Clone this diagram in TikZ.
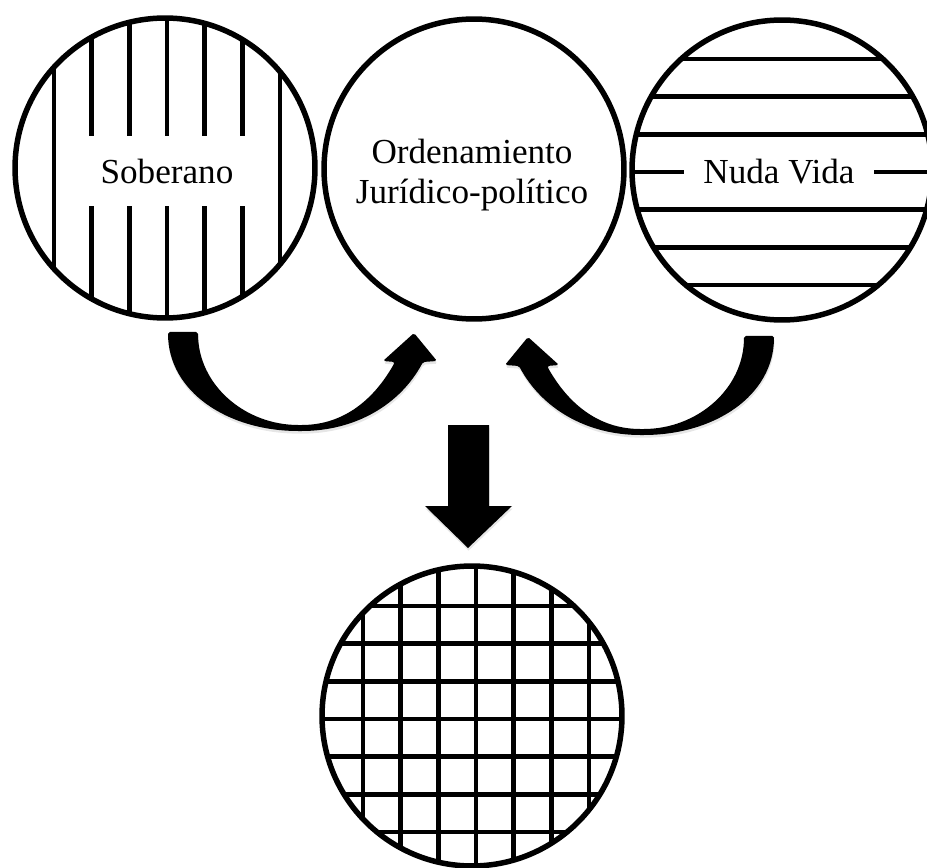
\documentclass[tikz,border=0pt]{standalone}
\usepackage{fontspec}
\setmainfont{Liberation Serif}
\usetikzlibrary{calc, shadows}

\begin{document}
\begin{tikzpicture}[
    x=0.02cm, y=-0.02cm, % work in pixel units, y pointing down
    ring/.style={circle, draw=black, line width=0.11cm, minimum size=6cm, inner sep=0pt}, % the four circles
    hatch/.style={line width=0.09cm}, % hatching inside the circles
    textbox/.style={fill=white, minimum width=3.8cm, minimum height=1.42cm, inner sep=0pt,
        font=\fontsize{20}{23}\selectfont, align=center},
    arrowfill/.style={fill=black, rounded corners=1pt,
        drop shadow={shadow xshift=0.3pt, shadow yshift=-1.5pt, opacity=0.2}}
]

    % Fix the page to the reference size
    \clip (0,0) rectangle (927,868);

    % Define circle centres and spacing of the hatching
    \def\radius{3cm}
    \def\gap{37.7}
    \coordinate (sobc) at (165,168);
    \coordinate (ordc) at (474,169);
    \coordinate (nudc) at (782,170);
    \coordinate (resc) at (472,716);

    % Left circle: vertical hatching
    \begin{scope}
        \clip (sobc) circle (\radius);
        \foreach \i in {-3,...,3}
            \draw[hatch] ($(sobc)+(\i*\gap+2,-200)$) -- ++(0,400);
    \end{scope}
    \node[ring] (sob) at (sobc) {};
    \node[textbox] (sobtext) at ($(sobc)+(2,3)$) {Soberano};

    % Middle circle: plain, two line label
    \node[ring] (ord) at (ordc) {};
    \node[font=\fontsize{20}{23}\selectfont, align=center] (ordtext) at ($(ordc)+(-2,6)$)
        {Ordenamiento\\Jurídico-político};

    % Right circle: horizontal hatching
    \begin{scope}
        \clip (nudc) circle (\radius);
        \foreach \i in {-3,...,3}
            \draw[hatch] ($(nudc)+(-200,\i*\gap+2)$) -- ++(400,0);
    \end{scope}
    \node[ring] (nud) at (nudc) {};
    \node[textbox] (nudtext) at ($(nudc)+(-3,2)$) {Nuda Vida};

    % Bottom circle: grid
    \begin{scope}
        \clip (resc) circle (\radius);
        \foreach \i in {-3,...,3} {
            \draw[hatch] ($(resc)+(\i*\gap+4,-200)$) -- ++(0,400);
            \draw[hatch] ($(resc)+(-200,\i*\gap+3)$) -- ++(400,0);
        }
    \end{scope}
    \node[ring] (res) at (resc) {};

    % Curved arrow from Soberano up to the middle circle
    \fill[arrowfill] (168,332) .. controls (168,392) and (228,431) .. (300,431)
        .. controls (355,431) and (400,405) .. (423,362)
        -- (437,361) -- (414,333) -- (383,361) -- (395,362)
        .. controls (375,398) and (345,425) .. (300,425)
        .. controls (245,425) and (198,385) .. (198,332) -- cycle;

    % Mirrored curved arrow from Nuda Vida up to the middle circle
    \begin{scope}[shift={(942,4)}, xscale=-1]
        \fill[arrowfill] (168,332) .. controls (168,392) and (228,431) .. (300,431)
            .. controls (355,431) and (400,405) .. (423,362)
            -- (437,361) -- (414,333) -- (383,361) -- (395,362)
            .. controls (375,398) and (345,425) .. (300,425)
            .. controls (245,425) and (198,385) .. (198,332) -- cycle;
    \end{scope}

    % Straight block arrow down to the bottom circle
    \coordinate (downtop) at (468,425);
    \fill[arrowfill, rounded corners=0pt] ($(downtop)+(-20,0)$) -- ++(41,0) -- ++(0,81) -- ++(23,0)
        -- ($(downtop)+(0,123)$) -- ($(downtop)+(-43,81)$) -- ++(23,0) -- cycle;

\end{tikzpicture}
\end{document}
